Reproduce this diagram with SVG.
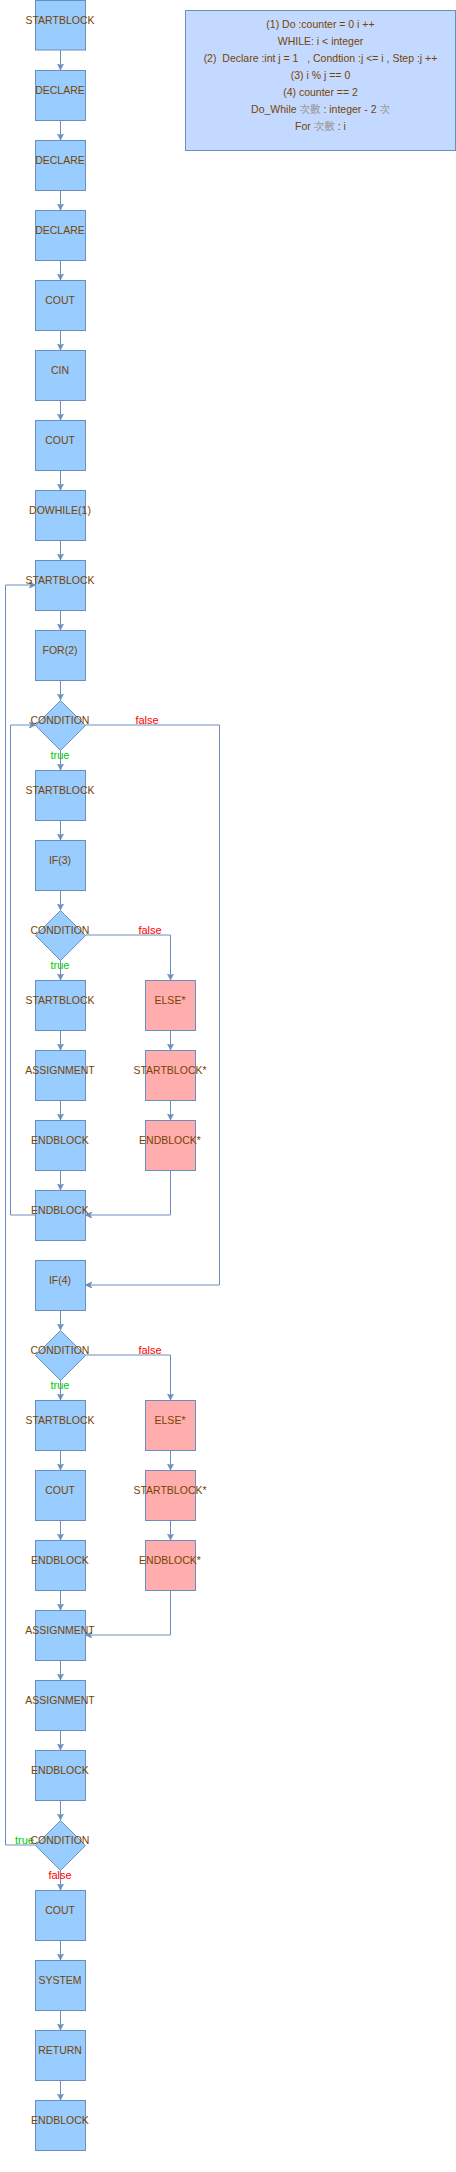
<svg xmlns="http://www.w3.org/2000/svg" width="456" height="2172" viewBox="0 0 456 2172">
<style>
.b{fill:#99ccff;stroke:#6c8ebf;stroke-width:1}
.p{fill:#ffadad;stroke:#6c8ebf;stroke-width:1}
.t{font-family:"Liberation Sans",Arial,sans-serif;font-size:10.5px;fill:#774400;text-anchor:middle}
.e{fill:none;stroke:#6c8ebf;stroke-width:1;marker-end:url(#a)}
.lf{font-family:"Liberation Sans",Arial,sans-serif;font-size:11px;fill:#ff0000;text-anchor:middle}
.lt{font-family:"Liberation Sans",Arial,sans-serif;font-size:11px;fill:#00cc00;text-anchor:middle}
.n{font-family:"Liberation Sans","Noto Sans CJK TC",sans-serif;font-size:10.5px;fill:#774400;text-anchor:middle}
.cj{fill:#999999}
</style>
<defs>
<marker id="a" viewBox="0 0 10 10" refX="10" refY="5" markerWidth="6.5" markerHeight="6.5" markerUnits="userSpaceOnUse" orient="auto">
<path d="M0,0 L10,5 L0,10 L3,5 z" fill="#6c8ebf" stroke="#6c8ebf" stroke-width="1"/>
</marker>
</defs>
<g id="connectors">
<path class="e" d="M60.5,50V70"/>
<path class="e" d="M60.5,120V140"/>
<path class="e" d="M60.5,190V210"/>
<path class="e" d="M60.5,260V280"/>
<path class="e" d="M60.5,330V350"/>
<path class="e" d="M60.5,400V420"/>
<path class="e" d="M60.5,470V490"/>
<path class="e" d="M60.5,540V560"/>
<path class="e" d="M60.5,610V630"/>
<path class="e" d="M60.5,680V700"/>
<path class="e" d="M60.5,750V770"/>
<path class="e" d="M60.5,820V840"/>
<path class="e" d="M60.5,890V910"/>
<path class="e" d="M60.5,960V980"/>
<path class="e" d="M60.5,1030V1050"/>
<path class="e" d="M60.5,1100V1120"/>
<path class="e" d="M60.5,1170V1190"/>
<path class="e" d="M170.5,1030V1050"/>
<path class="e" d="M170.5,1100V1120"/>
<path class="e" d="M85.5,935H170.5V980"/>
<path class="e" d="M170.5,1170V1215H85.5"/>
<path class="e" d="M85.5,725H219.5V1285H85.5"/>
<path class="e" d="M35.5,1215H10.5V725H35.5"/>
<path class="e" d="M60.5,1310V1330"/>
<path class="e" d="M60.5,1380V1400"/>
<path class="e" d="M60.5,1450V1470"/>
<path class="e" d="M60.5,1520V1540"/>
<path class="e" d="M60.5,1590V1610"/>
<path class="e" d="M170.5,1450V1470"/>
<path class="e" d="M170.5,1520V1540"/>
<path class="e" d="M85.5,1355H170.5V1400"/>
<path class="e" d="M170.5,1590V1635H85.5"/>
<path class="e" d="M60.5,1660V1680"/>
<path class="e" d="M60.5,1730V1750"/>
<path class="e" d="M60.5,1800V1820"/>
<path class="e" d="M35.5,1845H5.5V585H35.5"/>
<path class="e" d="M60.5,1870V1890"/>
<path class="e" d="M60.5,1940V1960"/>
<path class="e" d="M60.5,2010V2030"/>
<path class="e" d="M60.5,2080V2100"/>
<text class="lf" x="147" y="724">false</text>
<text class="lt" x="60" y="759">true</text>
<text class="lf" x="150" y="934">false</text>
<text class="lt" x="60" y="969">true</text>
<text class="lf" x="150" y="1354">false</text>
<text class="lt" x="60" y="1389">true</text>
<text class="lt" x="24.5" y="1844">true</text>
<text class="lf" x="60" y="1879">false</text>
</g>
<g id="note">
<rect x="185.5" y="10.5" width="270" height="140" fill="#c4d9ff" stroke="#6c8ebf"/>
<text class="n" x="320.5" y="28">(1) Do :counter = 0 i ++</text>
<text class="n" x="320.5" y="45">WHILE: i &lt; integer</text>
<text class="n" x="320.5" y="62" xml:space="preserve">(2)  Declare :int j = 1   , Condtion :j &lt;= i , Step :j ++</text>
<text class="n" x="320.5" y="79">(3) i % j == 0</text>
<text class="n" x="320.5" y="96">(4) counter == 2</text>
<text class="n" x="320.5" y="113">Do_While <tspan class="cj">次數</tspan> : integer - 2 <tspan class="cj">次</tspan></text>
<text class="n" x="320.5" y="130">For <tspan class="cj">次數</tspan> : i</text>
</g>
<g id="n1"><rect class="b" x="35.5" y="0.5" width="50" height="49.5"/><text class="t" x="60" y="24">STARTBLOCK</text></g>
<g id="n2"><rect class="b" x="35.5" y="70.5" width="50" height="50"/><text class="t" x="60" y="94">DECLARE</text></g>
<g id="n3"><rect class="b" x="35.5" y="140.5" width="50" height="50"/><text class="t" x="60" y="164">DECLARE</text></g>
<g id="n4"><rect class="b" x="35.5" y="210.5" width="50" height="50"/><text class="t" x="60" y="234">DECLARE</text></g>
<g id="n5"><rect class="b" x="35.5" y="280.5" width="50" height="50"/><text class="t" x="60" y="304">COUT</text></g>
<g id="n6"><rect class="b" x="35.5" y="350.5" width="50" height="50"/><text class="t" x="60" y="374">CIN</text></g>
<g id="n7"><rect class="b" x="35.5" y="420.5" width="50" height="50"/><text class="t" x="60" y="444">COUT</text></g>
<g id="n8"><rect class="b" x="35.5" y="490.5" width="50" height="50"/><text class="t" x="60" y="514">DOWHILE(1)</text></g>
<g id="n9"><rect class="b" x="35.5" y="560.5" width="50" height="50"/><text class="t" x="60" y="584">STARTBLOCK</text></g>
<g id="n10"><rect class="b" x="35.5" y="630.5" width="50" height="50"/><text class="t" x="60" y="654">FOR(2)</text></g>
<g id="n11"><path class="b" d="M60.5,700.5L85.5,725.5L60.5,750.5L35.5,725.5z"/><text class="t" x="60" y="724">CONDITION</text></g>
<g id="n12"><rect class="b" x="35.5" y="770.5" width="50" height="50"/><text class="t" x="60" y="794">STARTBLOCK</text></g>
<g id="n13"><rect class="b" x="35.5" y="840.5" width="50" height="50"/><text class="t" x="60" y="864">IF(3)</text></g>
<g id="n14"><path class="b" d="M60.5,910.5L85.5,935.5L60.5,960.5L35.5,935.5z"/><text class="t" x="60" y="934">CONDITION</text></g>
<g id="n15"><rect class="b" x="35.5" y="980.5" width="50" height="50"/><text class="t" x="60" y="1004">STARTBLOCK</text></g>
<g id="n16"><rect class="b" x="35.5" y="1050.5" width="50" height="50"/><text class="t" x="60" y="1074">ASSIGNMENT</text></g>
<g id="n17"><rect class="b" x="35.5" y="1120.5" width="50" height="50"/><text class="t" x="60" y="1144">ENDBLOCK</text></g>
<g id="n18"><rect class="b" x="35.5" y="1190.5" width="50" height="50"/><text class="t" x="60" y="1214">ENDBLOCK</text></g>
<g id="n19"><rect class="p" x="145.5" y="980.5" width="50" height="50"/><text class="t" x="170" y="1004">ELSE*</text></g>
<g id="n20"><rect class="p" x="145.5" y="1050.5" width="50" height="50"/><text class="t" x="170" y="1074">STARTBLOCK*</text></g>
<g id="n21"><rect class="p" x="145.5" y="1120.5" width="50" height="50"/><text class="t" x="170" y="1144">ENDBLOCK*</text></g>
<g id="n22"><rect class="b" x="35.5" y="1260.5" width="50" height="50"/><text class="t" x="60" y="1284">IF(4)</text></g>
<g id="n23"><path class="b" d="M60.5,1330.5L85.5,1355.5L60.5,1380.5L35.5,1355.5z"/><text class="t" x="60" y="1354">CONDITION</text></g>
<g id="n24"><rect class="b" x="35.5" y="1400.5" width="50" height="50"/><text class="t" x="60" y="1424">STARTBLOCK</text></g>
<g id="n25"><rect class="b" x="35.5" y="1470.5" width="50" height="50"/><text class="t" x="60" y="1494">COUT</text></g>
<g id="n26"><rect class="b" x="35.5" y="1540.5" width="50" height="50"/><text class="t" x="60" y="1564">ENDBLOCK</text></g>
<g id="n27"><rect class="p" x="145.5" y="1400.5" width="50" height="50"/><text class="t" x="170" y="1424">ELSE*</text></g>
<g id="n28"><rect class="p" x="145.5" y="1470.5" width="50" height="50"/><text class="t" x="170" y="1494">STARTBLOCK*</text></g>
<g id="n29"><rect class="p" x="145.5" y="1540.5" width="50" height="50"/><text class="t" x="170" y="1564">ENDBLOCK*</text></g>
<g id="n30"><rect class="b" x="35.5" y="1610.5" width="50" height="50"/><text class="t" x="60" y="1634">ASSIGNMENT</text></g>
<g id="n31"><rect class="b" x="35.5" y="1680.5" width="50" height="50"/><text class="t" x="60" y="1704">ASSIGNMENT</text></g>
<g id="n32"><rect class="b" x="35.5" y="1750.5" width="50" height="50"/><text class="t" x="60" y="1774">ENDBLOCK</text></g>
<g id="n33"><path class="b" d="M60.5,1820.5L85.5,1845.5L60.5,1870.5L35.5,1845.5z"/><text class="t" x="60" y="1844">CONDITION</text></g>
<g id="n34"><rect class="b" x="35.5" y="1890.5" width="50" height="50"/><text class="t" x="60" y="1914">COUT</text></g>
<g id="n35"><rect class="b" x="35.5" y="1960.5" width="50" height="50"/><text class="t" x="60" y="1984">SYSTEM</text></g>
<g id="n36"><rect class="b" x="35.5" y="2030.5" width="50" height="50"/><text class="t" x="60" y="2054">RETURN</text></g>
<g id="n37"><rect class="b" x="35.5" y="2100.5" width="50" height="50"/><text class="t" x="60" y="2124">ENDBLOCK</text></g>
</svg>
